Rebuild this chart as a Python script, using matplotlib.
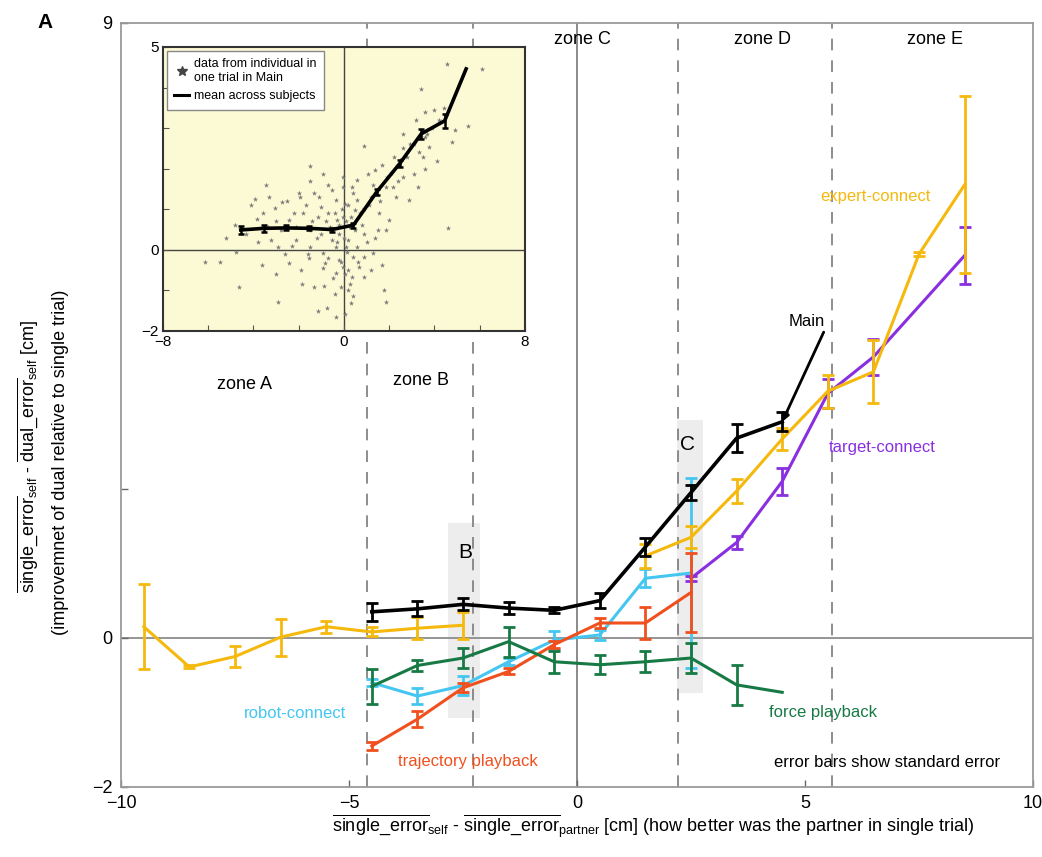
import numpy as np
import matplotlib

matplotlib.use("Agg")
import matplotlib.pyplot as plt
from matplotlib.lines import Line2D
from matplotlib.patches import Rectangle

plt.rcParams["font.family"] = ["Liberation Sans", "DejaVu Sans"]
plt.rcParams["mathtext.fontset"] = "custom"
plt.rcParams["mathtext.rm"] = "Liberation Sans"
plt.rcParams["mathtext.it"] = "Liberation Sans:italic"

nan = np.nan

# ---- main panel: bins of partner advantage [cm]
expert_x = [-9.5, -8.5, -7.5, -6.5, -5.5, -4.5, -3.5, -2.5, -1.5, -0.5, 0.5, 1.5, 2.5, 3.5, 4.5, 5.5, 6.5, 7.5, 8.5]
expert_y = [0.15, -0.39, -0.25, 0.01, 0.15, 0.08, 0.13, 0.17, nan, nan, nan, 1.1, 1.35, 1.97, 2.67, 3.31, 3.57, 5.15, 6.08]
expert_e = [0.57, 0.02, 0.14, 0.25, 0.08, 0.06, 0.15, 0.18, nan, nan, nan, 0.16, 0.15, 0.16, 0.15, 0.22, 0.42, 0.03, 1.19]

target_x = [2.5, 3.5, 4.5, 5.5, 6.5, 8.5]
target_y = [0.8, 1.28, 2.1, 3.28, 3.77, 5.13]
target_e = [0.03, 0.09, 0.18, 0.2, 0.24, 0.38]

main_x = [-4.5, -3.5, -2.5, -1.5, -0.5, 0.5, 1.5, 2.5, 3.5, 4.5]
main_y = [0.35, 0.39, 0.45, 0.4, 0.37, 0.5, 1.22, 1.95, 2.68, 2.9]
main_e = [0.12, 0.1, 0.08, 0.08, 0.04, 0.1, 0.12, 0.1, 0.19, 0.13]

robot_x = [-4.5, -3.5, -2.5, -1.5, -0.5, 0.5, 1.5, 2.5]
robot_y = [-0.6, -0.78, -0.64, -0.32, -0.03, 0.04, 0.8, 0.87]
robot_e = [0.05, 0.11, 0.13, 0.05, 0.12, 0.07, 0.12, 1.28]

traj_x = [-4.5, -3.5, -2.5, -1.5, -0.5, 0.5, 1.5, 2.5]
traj_y = [-1.45, -1.09, -0.67, -0.45, -0.09, 0.2, 0.2, 0.61]
traj_e = [0.06, 0.11, 0.06, 0.04, 0.05, 0.07, 0.21, 0.53]

force_x = [-4.5, -3.5, -2.5, -1.5, -0.5, 0.5, 1.5, 2.5, 3.5, 4.5]
force_y = [-0.65, -0.37, -0.27, -0.05, -0.32, -0.36, -0.32, -0.27, -0.63, -0.73]
force_e = [0.23, 0.07, 0.13, 0.2, 0.15, 0.13, 0.14, 0.2, 0.27, nan]

zone_bounds = [-4.6, -2.28, 2.21, 5.59]
zone_names = ["zone A", "zone B", "zone C", "zone D", "zone E"]

# ---- inset: individual trials and mean
trial_x = [4.57, 6.11, 3.42, 5.48, 4.92, 4.76, 0.89, 3.97, 2.63, 3.58, 3.74, 3.5, 3.58, 3.11, 2.63,
           2.87, 2.32, 1.84, 1.37, 1.05, 0.58, -1.48, -0.92, -3.45, -3.92, -2.74, -3.06, -1.95, -1.32,
           -0.53, -0.05, -0.37, -1.0, -1.79, -3.85, -4.32, -3.21, -2.9, -2.11, -1.48, -1.0, -0.53, -0.21,
           0.26, 0.89, 1.37, 2.0, 1.84, 4.6, -6.14, -5.5, -4.79, -3.61, -2.42, -1.55, -0.84, -0.21, 0.42,
           0.89, 1.68, 0.89, 0.34, -0.37, -0.92, -4.64, -2.9, -1.87, -1.32, -1.16, -0.76, -0.37, 0.03,
           0.18, 0.42, 1.76, 1.84, -0.13, -0.05, 0.11, 0.18, -0.29, -0.69, 0.58, 1.21, 1.53, 2.16, 2.47,
           3.11, 4.21, 2.79, 3.26, 3.66, 0.5, 0.03, 0.34, -1.16, -2.42, -3.37, -2.11, -1.48, -0.61, -0.05,
           -0.37, -0.92, 0.58, 1.29, 0.66, 0.18,
           -0.2, 0.1, -0.4, 0.3, -0.1, 0.2, -0.6, -0.8, 0.5, 0.0, -0.3, 0.15, -0.15, 0.05, 0.25, -0.5,
           -0.7, -1.2, -1.4, -1.7, -2.2, -2.5, -2.8, -3.0, -3.6, -4.1, -3.3, -2.0, -1.1, -0.7, 0.4, 0.7,
           0.9, 1.1, 1.3, 1.6, 1.9, 2.1, 2.4, 2.6, 2.9, 3.2, 3.3, 3.6, 3.9, 4.1, 4.4, 2.2, 1.7, 1.0,
           0.6, 1.2, -0.9, -1.9, -2.6, -3.8, -4.8, -5.2, -3.0, -0.4, 0.3, -1.6, -2.3, 0.8, 1.5, -0.05, -1.5]
trial_y = [4.57, 4.46, 3.97, 3.05, 2.95, 2.66, 2.56, 3.44, 2.86, 2.78, 2.54, 2.29, 2.0, 1.88, 1.8,
           1.22, 1.31, 1.55, 1.96, 1.88, 1.72, 2.07, 1.86, 1.61, 1.25, 1.18, 1.02, 1.31, 1.39,
           1.47, 1.55, 1.22, 1.06, 0.9, 0.77, 0.4, 0.24, 0.08, 0.24, 0.08, 0.4, 0.24, 0.4,
           0.57, 0.4, 0.28, 0.73, 0.49, 0.53, -0.29, -0.29, -0.05, -0.38, -0.33, -0.21, -0.33, -0.25, -0.17,
           -0.17, -0.38, -0.66, -0.66, -0.58, -0.46, -0.91, -1.28, -0.83, -0.91, -1.52, -1.44, -1.65, -1.57,
           -1.0, -1.15, -1.0, -1.28, -0.91, -0.42, 0.08, 0.24, 0.73, 0.9, 1.22, 1.31, 0.9, 1.55, 2.21,
           2.62, 3.19, 2.29, 1.55, 2.86, 0.98, 1.14, 1.55, 0.81, 0.73, 0.57, 0.57, 0.49, 0.57, 0.81,
           0.08, -0.09, 0.08, -0.09, -0.42, -0.5,
           0.6, 0.7, 0.9, 0.8, 1.0, 1.1, 0.5, 0.7, 0.5, 0.3, 0.2, -0.05, -0.3, -0.6, -0.85, -0.7,
           -0.2, 0.3, 0.7, 1.1, 0.9, 1.2, 0.5, 0.7, 0.9, 1.1, 1.3, 1.4, 1.3, 1.6, 1.4, 0.9,
           1.0, 1.1, 1.6, 1.2, 1.8, 1.9, 1.7, 2.5, 2.6, 3.2, 2.4, 3.4, 3.0, 2.2, 3.5, 2.3, 2.1, 0.2,
           -0.3, -0.5, -0.9, -0.5, -0.1, 0.2, 0.6, 0.3, -0.6, -1.1, -1.3, -0.1, 0.1, 0.6, 0.5, 1.8, 1.7]
mean_x = [-4.56, -3.53, -2.58, -1.55, -0.53, 0.42, 1.45, 2.47, 3.42, 4.45, 5.4]
mean_y = [0.49, 0.53, 0.54, 0.53, 0.5, 0.61, 1.43, 2.13, 2.86, 3.18, 4.46]
mean_e = [0.1, 0.08, 0.06, 0.05, 0.05, 0.06, 0.08, 0.08, 0.12, 0.18, nan]

YELLOW = "#f5b90e"
PURPLE = "#8a2fe0"
CYAN = "#45c6f0"
RED = "#f0501e"
GREEN = "#177a45"
GRAY = "#8c8c8c"

fig = plt.figure(figsize=(10.42, 8.57), dpi=100)
ax = fig.add_axes([0.1161, 0.0817, 0.8753, 0.8915])
ax.set_xlim(-10, 10)
ax.set_ylim(-2, 8.25)

for b in zone_bounds:
    ax.axvline(b, color="#7a7a7a", lw=1.2, ls=(0, (7, 6)), zorder=1)
ax.axvline(0, color="#777777", lw=1.2, zorder=1)
ax.axhline(0, color=GRAY, lw=1.3, zorder=1)

ax.add_patch(Rectangle((-2.83, -1.07), 0.7, 2.61, facecolor="#e6e6e6", edgecolor="none", alpha=0.7, zorder=0))
ax.add_patch(Rectangle((2.19, -0.74), 0.57, 3.67, facecolor="#e6e6e6", edgecolor="none", alpha=0.7, zorder=0))

eb = dict(lw=2.2, elinewidth=2, capsize=4, capthick=2)
ax.errorbar(robot_x, robot_y, yerr=robot_e, color=CYAN, zorder=3, **eb)
ax.errorbar(target_x, target_y, yerr=target_e, color=PURPLE, zorder=4, **eb)
ax.errorbar(expert_x, expert_y, yerr=expert_e, color=YELLOW, zorder=5, **eb)
ax.errorbar(traj_x, traj_y, yerr=traj_e, color=RED, zorder=6, **eb)
ax.errorbar(force_x, force_y, yerr=force_e, color=GREEN, zorder=6, **eb)
ax.errorbar(main_x, main_y, yerr=main_e, color="black", zorder=7, lw=2.6, elinewidth=2, capsize=4, capthick=2)

ax.annotate("Main", xy=(main_x[-1], main_y[-1]), xytext=(5.04, 4.24), fontsize=12, ha="center", va="center",
            arrowprops=dict(arrowstyle="-|>", color="black", lw=2, relpos=(1, 0), shrinkA=0, shrinkB=0,
                            mutation_scale=10), zorder=8)
ax.text(6.54, 5.92, "expert-connect", color=YELLOW, fontsize=12, ha="center", va="center")
ax.text(6.69, 2.56, "target-connect", color=PURPLE, fontsize=12, ha="center", va="center")
ax.text(-6.18, -1.02, "robot-connect", color=CYAN, fontsize=12, ha="center", va="center")
ax.text(-2.39, -1.66, "trajectory playback", color=RED, fontsize=12, ha="center", va="center")
ax.text(5.39, -1.0, "force playback", color=GREEN, fontsize=12, ha="center", va="center")
ax.text(6.8, -1.67, "error bars show standard error", color="black", fontsize=12, ha="center", va="center")
ax.text(-2.45, 1.15, "B", fontsize=15, ha="center", va="center")
ax.text(2.43, 2.59, "C", fontsize=15, ha="center", va="center")

zone_pos = [(-7.3, 3.4), (-3.42, 3.45), (0.11, 8.03), (4.06, 8.03), (7.85, 8.03)]
for name, (zx, zy) in zip(zone_names, zone_pos):
    ax.text(zx, zy, name, fontsize=13, ha="center", va="center")

ax.set_xticks([-10, -5, 0, 5, 10])
ax.set_xticklabels(["\u221210", "\u22125", "0", "5", "10"])
ax.set_yticks([-2, 0, 2, 8.25])
ax.set_yticklabels(["\u22122", "0", "", "9"])
ax.tick_params(direction="in", length=5, width=1, labelsize=13, color="#666666", pad=6)
for s in ax.spines.values():
    s.set_color("#9a9a9a")
    s.set_linewidth(1.3)

# ---- inset
axi = fig.add_axes([0.1564, 0.6138, 0.3474, 0.3314])
axi.set_facecolor("#fcfad4")
axi.set_xlim(-8, 8)
axi.set_ylim(-2, 5)
axi.axhline(0, color="#444444", lw=1, zorder=1)
axi.axvline(0, color="#444444", lw=1, zorder=1)
axi.scatter(trial_x, trial_y, s=16, marker="*", color="#7a7a7a", linewidths=0, zorder=2)
axi.errorbar(mean_x, mean_y, yerr=mean_e, color="black", lw=2.6, elinewidth=1.8, capsize=2.5, capthick=1.8, zorder=3)
axi.set_xticks(np.arange(-8, 9, 2))
axi.set_xticklabels(["\u22128", "", "", "", "0", "", "", "", "8"])
axi.set_yticks(np.arange(-2, 6, 1))
axi.set_yticklabels(["\u22122", "", "0", "", "", "", "", "5"])
axi.tick_params(direction="in", length=4, labelsize=11, color="#555555", pad=3)
for s in axi.spines.values():
    s.set_color("#333333")
    s.set_linewidth(1.5)
handles = [Line2D([], [], marker="*", color="#444444", ls="none", markersize=7),
           Line2D([], [], color="black", lw=2.2)]
leg = axi.legend(handles, ["data from individual in\none trial in Main", "mean across subjects"],
                 loc="upper left", fontsize=9, frameon=True, fancybox=False, edgecolor="#888888",
                 facecolor="white", framealpha=1, handlelength=1.2, borderaxespad=0.3, borderpad=0.6,
                 handletextpad=0.4)

fig.text(0.043, 0.985, "A", fontsize=15, fontweight="bold", ha="center", va="top")

ylab1 = (r"$\overline{\mathrm{single\_error}}_{\mathrm{self}}$ - "
         r"$\overline{\mathrm{dual\_error}}_{\mathrm{self}}$ [cm]")
ylab2 = "(improvemnet of dual relative to single trial)"
fig.text(0.027, 0.467, ylab1, rotation=90, fontsize=13, ha="center", va="center")
fig.text(0.058, 0.46, ylab2, rotation=90, fontsize=13, ha="center", va="center")
xlab = (r"$\overline{\mathrm{single\_error}}_{\mathrm{self}}$ - "
        r"$\overline{\mathrm{single\_error}}_{\mathrm{partner}}$ [cm] (how better was the partner in single trial)")
fig.text(0.627, 0.029, xlab, fontsize=13, ha="center", va="baseline")

fig.savefig("out.png", dpi=100)
